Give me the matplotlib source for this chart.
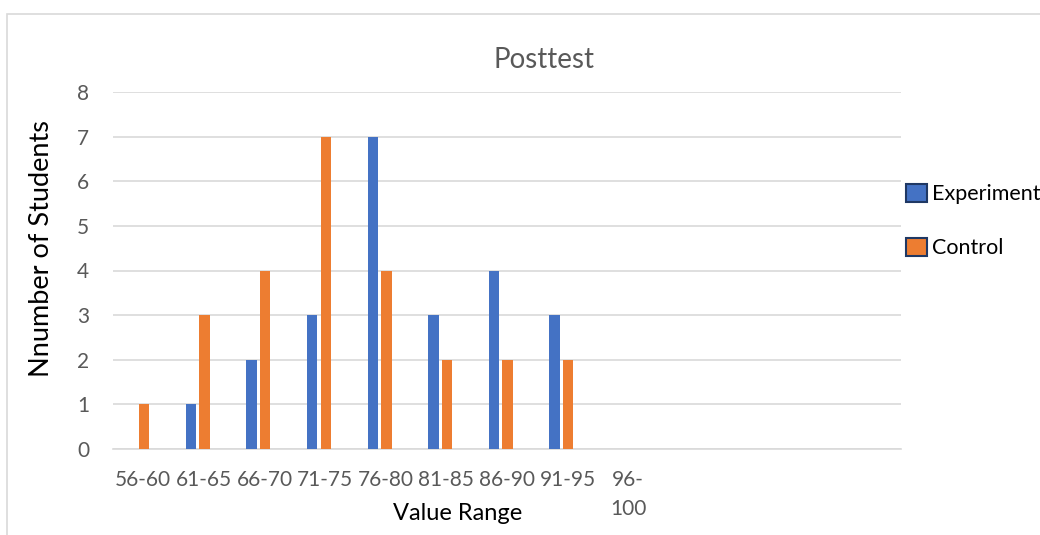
import matplotlib.pyplot as plt
import matplotlib.patches as mpatches
import numpy as np

plt.rcParams['font.family'] = ['Lato', 'DejaVu Sans']

# value ranges (the chart leaves a few empty slots on the right)
ranges = ["56-60", "61-65", "66-70", "71-75", "76-80", "81-85", "86-90", "91-95", "96-100",
          "", "", "", ""]
experiment = [0, 1, 2, 3, 7, 3, 4, 3, 0, 0, 0, 0, 0]
control = [1, 3, 4, 7, 4, 2, 2, 2, 0, 0, 0, 0, 0]

blue = "#4472C4"
orange = "#ED7D31"
grid = "#D9D9D9"
txt = "#595959"

W, H = 1040, 535
fig = plt.figure(figsize=(W/100, H/100), dpi=100)
ax = fig.add_axes([113/W, 1 - 449/H, (901-113)/W, (449-92)/H])

x = np.arange(len(ranges))
w = 0.173
# excel left room for a third (empty) series, so the pair sits left of centre
ax.bar(x - 0.213, experiment, width=w, color=blue, label="Experiment", zorder=3)
ax.bar(x + 0.01, control, width=w, color=orange, label="Control", zorder=3)

ax.set_xlim(-0.5, len(ranges) - 0.5)
ax.set_ylim(0, 8)
ax.set_yticks(range(0, 9))
ax.yaxis.grid(True, color=grid, linewidth=1.2)
ax.set_axisbelow(True)
for s in ["top", "right", "left"]:
    ax.spines[s].set_visible(False)
ax.spines["bottom"].set_color(grid)
ax.spines["bottom"].set_linewidth(1.2)
ax.tick_params(axis="both", length=0, labelcolor=txt, labelsize=15)
ax.tick_params(axis="y", pad=17)
ax.tick_params(axis="x", pad=15)

# long label wraps like the original
labels = [r if len(r) <= 5 else r[:3] + "\n" + r[3:] for r in ranges]
ax.set_xticks(x)
ax.set_xticklabels(labels, va="top", linespacing=1.6)

fig.text(544/W, 1 - 60/H, "Posttest", fontsize=20, color=txt, ha="center", va="center")
ax.set_xlabel("Value Range", fontsize=17, color="black")
ax.xaxis.set_label_coords((458-113)/(901-113), -(513-449)/(449-92), transform=ax.transAxes)
ax.xaxis.label.set_va("center")
ax.set_ylabel("Nnumber of Students", fontsize=19.5, color="black")
ax.yaxis.set_label_coords(-(113-42)/(901-113), (449-249)/(449-92), transform=ax.transAxes)
ax.yaxis.label.set_va("center")

handles = [mpatches.Patch(facecolor=blue, edgecolor="#1F3864", linewidth=1.5),
           mpatches.Patch(facecolor=orange, edgecolor="#1F3864", linewidth=1.5)]
fig.legend(handles, ["Experiment", "Control"], loc="upper left",
           bbox_to_anchor=(0.853, 0.693), frameon=False, fontsize=15.5,
           handlelength=0.95, handleheight=0.95, handletextpad=0.25, labelspacing=1.55)

# chart border (cropped at right and bottom)
fig.patches.append(mpatches.Rectangle((7/W, -0.1), 1.2, 1 - 14/H + 0.1,
                                      transform=fig.transFigure, fill=False,
                                      edgecolor=grid, linewidth=1.2))

fig.savefig("out.png", dpi=100)
